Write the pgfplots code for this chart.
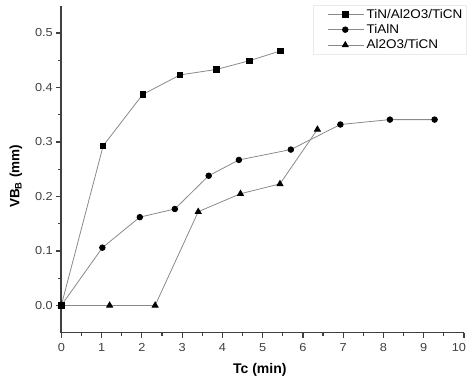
\documentclass[border=0pt]{standalone}
\usepackage{pgfplots}
\pgfplotsset{compat=1.18}
\usepackage{fontspec}
\setmainfont{Liberation Sans}
\newfontfamily\tickfont[FakeStretch=1.1]{Liberation Sans}
\newfontfamily\legfont[FakeStretch=1.07]{Liberation Sans}
\definecolor{axgray}{HTML}{404040}
\definecolor{lngray}{HTML}{8A8A8A}
\begin{document}
\begin{tikzpicture}
\begin{axis}[
  scale only axis, width=402.7pt, height=327pt,
  xmin=0, xmax=10, ymin=-0.05, ymax=0.55,
  axis x line*=bottom, axis y line*=left,
  axis line style={axgray, line width=1.6pt, -},
  xtick={0,1,...,10}, ytick={0,0.1,...,0.5},
  minor x tick num=1, minor y tick num=1,
  tick align=outside,
  major tick length=5pt, minor tick length=3pt,
  every tick/.style={axgray, line width=1.2pt},
  tick label style={font=\tickfont\fontsize{11.6}{13}\selectfont, text=black!75},
  /pgf/number format/assume math mode=true,
  yticklabel style={/pgf/number format/.cd, fixed, fixed zerofill, precision=1},
  xticklabel style={yshift=-2pt},
  xticklabels={0,1,2,3,4,5,6,7,8,9,\hspace*{-5pt}10\hspace*{5pt}},
  every axis y label/.style={at={(axis description cs:-0.1125,0.478)}, rotate=90, anchor=center},
  every axis x label/.style={at={(axis description cs:0.493,0)}, anchor=center, yshift=-37.5pt},
  xlabel={\fontsize{14}{16}\selectfont\bfseries Tc (min)},
  ylabel={\fontsize{13.5}{16}\selectfont\bfseries VB\textsubscript{B} (mm)},
  legend style={at={(0.625,1.003)}, anchor=north west, draw=black!8, fill=none,
    font=\legfont\fontsize{12.6}{14}\selectfont, row sep=0.8pt, inner sep=2pt},
  legend cell align=left,
  legend image code/.code={\path (0pt,0pt); \draw[mark repeat=2,mark phase=2,#1] plot coordinates {(12pt,0pt) (29.7pt,0pt) (48.7pt,0pt)};},
  clip=false,
]
\addplot[lngray, line width=0.8pt, mark=square*, mark size=2.7pt, mark options={black, fill=black, solid}]
  coordinates {(0,0) (1.04,0.293) (2.02,0.387) (2.95,0.423) (3.85,0.433) (4.67,0.449) (5.44,0.467)};
\addlegendentry{TiN/Al2O3/TiCN}
\addplot[lngray, line width=0.8pt, mark=*, mark size=2.8pt, mark options={black, fill=black, solid}]
  coordinates {(0,0) (1.02,0.106) (1.95,0.162) (2.82,0.177) (3.66,0.238) (4.41,0.267) (5.70,0.286) (6.93,0.332) (8.16,0.341) (9.27,0.341)};
\addlegendentry{TiAlN}
\addplot[lngray, line width=0.8pt, mark=triangle*, mark size=3.4pt, mark options={black, fill=black, solid}]
  coordinates {(0,0) (1.20,0) (2.33,0) (3.40,0.172) (4.45,0.205) (5.43,0.223) (6.36,0.323)};
\addlegendentry{Al2O3/TiCN}
\end{axis}
\pgfresetboundingbox
\useasboundingbox ([shift={(-61.3pt,-49.3pt)}]current axis.south west) rectangle ([shift={(5pt,5.7pt)}]current axis.north east);
\end{tikzpicture}
\end{document}
